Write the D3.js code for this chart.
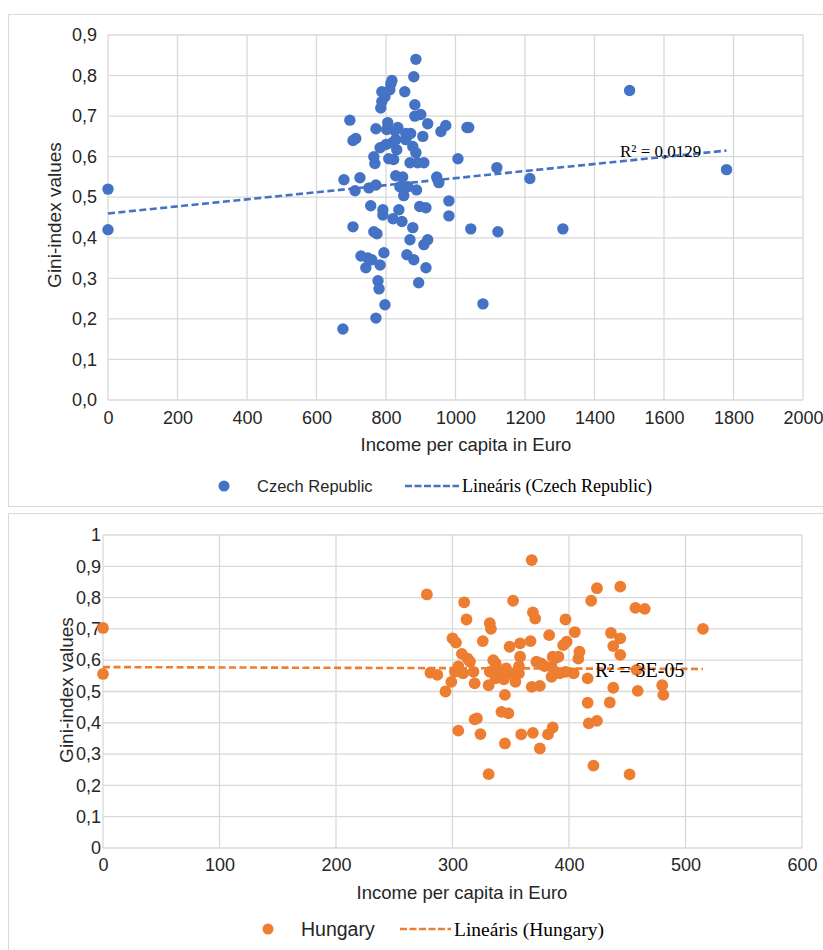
<!DOCTYPE html>
<html>
<head>
<meta charset="utf-8">
<script src="https://cdn.jsdelivr.net/npm/d3@7"></script>
<style>
  body { margin: 0; background: #fff; }
  svg { display: block; }
</style>
</head>
<body>
<div id="chart"></div>
<script>
// ---- Czech Republic: income per capita (EUR) vs Gini index ----
const czIncome = [0, 0, 676, 679, 696, 705, 713, 705, 711, 725, 728, 742, 748, 751, 756, 759, 765, 765,
    768, 771, 771, 771, 774, 777, 780, 783, 783, 785, 788, 788, 791, 791, 794, 797, 797, 800, 802, 805,
    808, 811, 814, 817, 817, 820, 822, 826, 828, 828, 831, 834, 837, 840, 846, 848, 851, 854, 857, 857,
    860, 863, 869, 869, 871, 877, 877, 880, 880, 883, 883, 886, 886, 888, 891, 894, 897, 900, 906, 909,
    909, 915, 915, 920, 920, 946, 952, 958, 972, 981, 981, 1007, 1033, 1038, 1044, 1079, 1119, 1122,
    1214, 1309, 1501, 1780];
const czGini = [0.52, 0.42, 0.175, 0.543, 0.69, 0.64, 0.645, 0.427, 0.516, 0.548, 0.355, 0.326, 0.35,
    0.523, 0.479, 0.346, 0.415, 0.60, 0.583, 0.53, 0.202, 0.669, 0.41, 0.294, 0.274, 0.333, 0.622, 0.72,
    0.736, 0.76, 0.456, 0.469, 0.363, 0.235, 0.748, 0.63, 0.667, 0.684, 0.595, 0.765, 0.78, 0.788, 0.634,
    0.447, 0.593, 0.664, 0.642, 0.553, 0.617, 0.672, 0.469, 0.526, 0.44, 0.55, 0.504, 0.76, 0.642, 0.657,
    0.358, 0.526, 0.395, 0.585, 0.657, 0.425, 0.625, 0.797, 0.346, 0.728, 0.70, 0.84, 0.61, 0.518, 0.585,
    0.289, 0.477, 0.704, 0.65, 0.383, 0.585, 0.474, 0.326, 0.395, 0.681, 0.55, 0.536, 0.662, 0.677, 0.454,
    0.491, 0.595, 0.672, 0.672, 0.422, 0.237, 0.573, 0.415, 0.546, 0.422, 0.763, 0.568];
const czXTicks = [0, 200, 400, 600, 800, 1000, 1200, 1400, 1600, 1800, 2000];
const czYTicks = [0, 0.1, 0.2, 0.3, 0.4, 0.5, 0.6, 0.7, 0.8, 0.9];
const czTrend = [0.46, 0.0000871];   // intercept, slope of the linear trendline
const czR2 = "R² = 0,0129";

// ---- Hungary ----
const huIncome = [0, 0, 278, 281, 287, 294, 299, 300, 302, 303, 305, 305, 308, 309, 310, 312, 313, 315,
    318, 319, 319, 321, 324, 326, 331, 331, 332, 333, 332, 335, 337, 339, 342, 342, 345, 345, 346, 337,
    344, 348, 349, 349, 352, 354, 357, 357, 358, 358, 359, 367, 368, 369, 369, 368, 371, 372, 375, 375,
    376, 379, 382, 383, 385, 385, 386, 386, 388, 388, 391, 392, 395, 397, 397, 398, 404, 405, 408, 409,
    416, 416, 417, 419, 421, 424, 424, 435, 436, 438, 438, 444, 444, 444, 452, 457, 458, 459, 465, 480,
    481, 515];
const huGini = [0.703, 0.556, 0.81, 0.56, 0.553, 0.50, 0.531, 0.67, 0.563, 0.656, 0.58, 0.375, 0.62,
    0.558, 0.785, 0.73, 0.605, 0.595, 0.563, 0.526, 0.411, 0.414, 0.364, 0.661, 0.52, 0.236, 0.718, 0.70,
    0.563, 0.60, 0.59, 0.569, 0.553, 0.435, 0.489, 0.334, 0.574, 0.542, 0.539, 0.43, 0.643, 0.558, 0.79,
    0.531, 0.558, 0.58, 0.654, 0.611, 0.363, 0.661, 0.92, 0.368, 0.753, 0.515, 0.733, 0.595, 0.518, 0.318,
    0.59, 0.581, 0.363, 0.68, 0.579, 0.547, 0.385, 0.611, 0.563, 0.606, 0.611, 0.558, 0.648, 0.563, 0.73,
    0.659, 0.558, 0.69, 0.605, 0.627, 0.542, 0.464, 0.398, 0.79, 0.263, 0.406, 0.83, 0.465, 0.687, 0.645,
    0.512, 0.67, 0.617, 0.835, 0.235, 0.767, 0.569, 0.502, 0.764, 0.52, 0.489, 0.70];
const huXTicks = [0, 100, 200, 300, 400, 500, 600];
const huYTicks = [0, 0.1, 0.2, 0.3, 0.4, 0.5, 0.6, 0.7, 0.8, 0.9, 1];
const huTrend = [0.578, -0.0000116];
const huR2 = "R² = 3E-05";

const SANS = "'Liberation Sans', Arial, sans-serif";
const SERIF = "'Liberation Serif', 'Times New Roman', serif";
const GRID = "#d9d9d9";
const TEXT = "#262626";

const svg = d3.select("#chart").append("svg")
    .attr("width", 823).attr("height", 950);

/** one chart card: grid, axes, dots, trendline, legend */
const drawPanel = p => {
    const g = svg.append("g");
    g.append("rect")
        .attr("x", p.card[0] + 0.5).attr("y", p.card[1] + 0.5)
        .attr("width", p.card[2]).attr("height", p.card[3])
        .attr("fill", "#fff").attr("stroke", GRID);

    const x = d3.scaleLinear().domain(d3.extent(p.xTicks)).range([p.left, p.right]);
    const y = d3.scaleLinear().domain(d3.extent(p.yTicks)).range([p.bottom, p.top]);

    // grid
    g.append("g").selectAll("line").data(p.yTicks).join("line")
        .attr("x1", p.left).attr("x2", p.right)
        .attr("y1", d => y(d)).attr("y2", d => y(d))
        .attr("stroke", GRID).attr("stroke-width", 1.3);
    g.append("g").selectAll("line").data(p.xTicks).join("line")
        .attr("y1", p.top).attr("y2", p.bottom)
        .attr("x1", d => x(d)).attr("x2", d => x(d))
        .attr("stroke", GRID).attr("stroke-width", 1.3);

    // axes (labels only)
    const styleAxis = a => {
        a.select(".domain").remove();
        a.attr("font-family", SANS).attr("font-size", 18);
        a.selectAll("text").attr("fill", TEXT);
    };
    g.append("g").attr("transform", `translate(0,${p.bottom})`)
        .call(d3.axisBottom(x).tickValues(p.xTicks).tickSize(0)
            .tickPadding(p.xPad).tickFormat(d3.format("d")))
        .call(styleAxis);
    g.append("g").attr("transform", `translate(${p.left},0)`)
        .call(d3.axisLeft(y).tickValues(p.yTicks).tickSize(0)
            .tickPadding(p.yPad).tickFormat(p.yFormat))
        .call(styleAxis);

    // axis titles
    g.append("text")
        .attr("x", p.xTitle[0]).attr("y", p.xTitle[1])
        .attr("text-anchor", "middle")
        .attr("font-family", SANS).attr("font-size", 18.5).attr("fill", TEXT)
        .text("Income per capita in Euro");
    g.append("text")
        .attr("transform", `translate(${p.yTitle[0]},${p.yTitle[1]}) rotate(-90)`)
        .attr("text-anchor", "middle")
        .attr("font-family", SANS).attr("font-size", 19).attr("fill", TEXT)
        .text("Gini-index values");

    // points
    g.append("g").selectAll("circle").data(p.income).join("circle")
        .attr("cx", d => x(d))
        .attr("cy", (d, i) => y(p.gini[i]))
        .attr("r", p.r)
        .attr("fill", p.color);

    // linear trendline
    const [a, b] = p.trend;
    const xmax = d3.max(p.income);
    g.append("path")
        .attr("d", d3.line()([[x(0), y(a)], [x(xmax), y(a + b * xmax)]]))
        .attr("stroke", p.color).attr("stroke-width", 2.6)
        .attr("stroke-dasharray", "7,3.5").attr("fill", "none");
    g.append("text")
        .attr("x", p.r2Pos[0]).attr("y", p.r2Pos[1])
        .attr("font-family", SERIF).attr("font-size", p.r2Size).attr("fill", "#000")
        .text(p.r2);

    // legend
    const [lx, ly] = p.legend;
    g.append("circle").attr("cx", lx).attr("cy", ly).attr("r", 5.5).attr("fill", p.color);
    g.append("text").attr("x", lx + 33).attr("y", ly + p.legSize * 0.36)
        .attr("font-family", SANS).attr("font-size", p.legSize).attr("fill", TEXT)
        .text(p.name);
    g.append("line")
        .attr("x1", p.legLine[0]).attr("x2", p.legLine[1])
        .attr("y1", ly).attr("y2", ly)
        .attr("stroke", p.color).attr("stroke-width", 2.6).attr("stroke-dasharray", "7,2.5");
    g.append("text").attr("x", p.legLine[1] + 3).attr("y", ly + p.legSize * 0.34)
        .attr("font-family", SERIF).attr("font-size", p.serifSize).attr("fill", "#000")
        .text(`Lineáris (${p.name})`);
};

const comma = s => s.replace(".", ",");

drawPanel({
    name: "Czech Republic", color: "#4472C4",
    income: czIncome, gini: czGini, xTicks: czXTicks, yTicks: czYTicks,
    trend: czTrend, r2: czR2, r2Pos: [620, 157], r2Size: 17,
    card: [8, 14, 840, 492],
    left: 108, right: 803, top: 35, bottom: 400, xPad: 11, yPad: 11,
    yFormat: d => comma(d3.format(".1f")(d)),
    xTitle: [466, 451], yTitle: [61, 215],
    r: 5.7,
    legend: [224, 486], legLine: [405, 459], legSize: 16.5, serifSize: 18
});

drawPanel({
    name: "Hungary", color: "#ED7D31",
    income: huIncome, gini: huGini, xTicks: huXTicks, yTicks: huYTicks,
    trend: huTrend, r2: huR2, r2Pos: [595, 677], r2Size: 20,
    card: [8, 513, 840, 460],
    left: 103, right: 802, top: 535, bottom: 848, xPad: 10, yPad: 2,
    yFormat: d => comma(d3.format("~g")(d)),
    xTitle: [462, 899], yTitle: [73, 690],
    r: 5.9,
    legend: [268, 929], legLine: [400, 451], legSize: 19.5, serifSize: 19.5
});
</script>
</body>
</html>
